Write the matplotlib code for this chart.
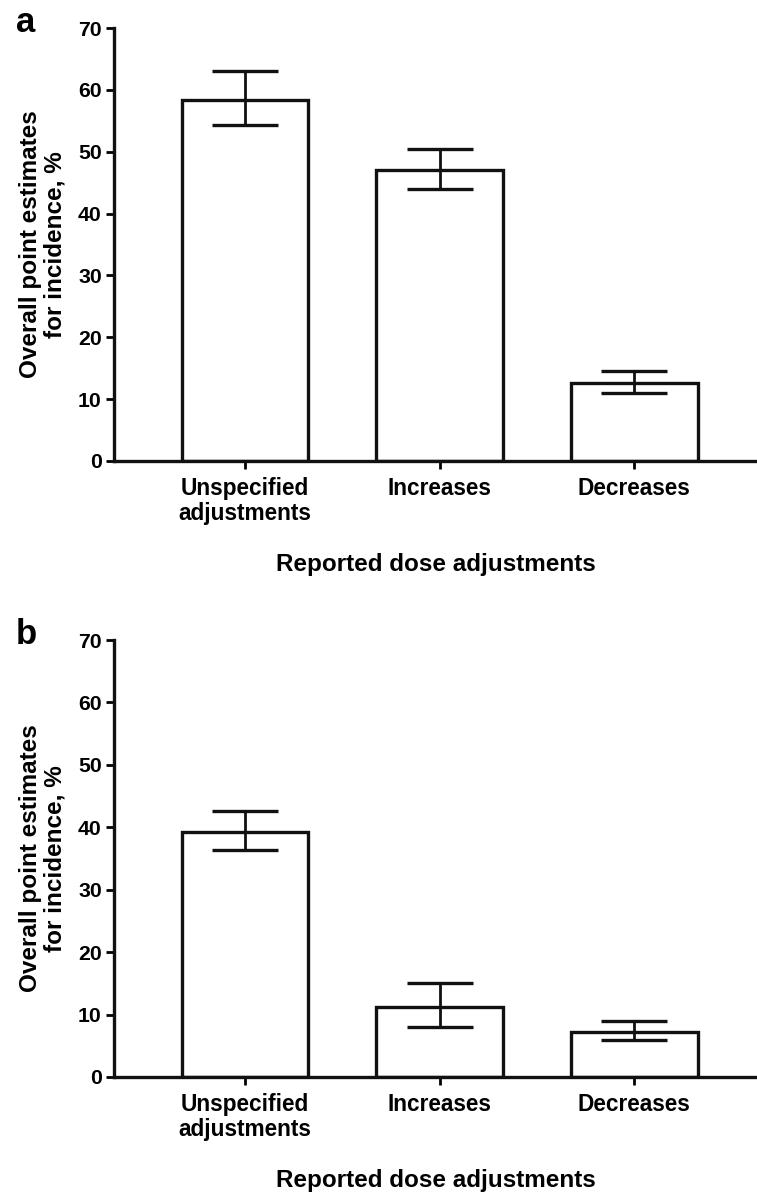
"""Incidence of reported dose adjustments, panels a and b."""

import numpy as np
import matplotlib
matplotlib.use("Agg")
import matplotlib.pyplot as plt

categories = ["Unspecified\nadjustments", "Increases", "Decreases"]

# panel a
a_values = [58.3, 47.0, 12.6]
a_upper = [63.0, 50.5, 14.6]
a_lower = [54.3, 44.0, 11.0]

# panel b
b_values = [39.2, 11.2, 7.2]
b_upper = [42.6, 15.0, 9.0]
b_lower = [36.4, 8.0, 5.9]

yticks = [0, 10, 20, 30, 40, 50, 60, 70]

plt.rcParams["font.family"] = ["Liberation Sans", "DejaVu Sans"]
plt.rcParams["font.weight"] = "bold"

W, H = 757, 1192
fig = plt.figure(figsize=(W / 100, H / 100), dpi=100)


def panel(rect, values, upper, lower, letter):
    ax = fig.add_axes(rect)
    x = np.arange(len(values))
    ax.bar(x, values, width=0.65, facecolor="white", edgecolor="#111111",
           linewidth=2.4, zorder=2)
    vals = np.array(values)
    yerr = [vals - np.array(lower), np.array(upper) - vals]
    ax.errorbar(x, vals, yerr=yerr, fmt="none", ecolor="#111111",
                elinewidth=2.0, capsize=23.5, capthick=2.4, zorder=3)

    ax.set_xlim(-0.672, 2.63)
    ax.set_ylim(0, 70)
    ax.set_yticks(yticks)
    ax.set_xticks(x)
    ax.set_xticklabels(categories, fontsize=16.3, fontweight="bold",
                       linespacing=1.1)
    ax.tick_params(axis="y", labelsize=15.3, width=2, length=5.8, pad=3,
                   direction="out")
    ax.tick_params(axis="x", width=2, length=5.8, pad=6, direction="out")
    for lab in ax.get_yticklabels():
        lab.set_fontweight("bold")

    for side in ("top", "right"):
        ax.spines[side].set_visible(False)
    for side in ("left", "bottom"):
        ax.spines[side].set_linewidth(2.4)
        ax.spines[side].set_color("#111111")

    ax.set_ylabel("Overall point estimates\nfor incidence, %", fontsize=17.5,
                  fontweight="bold", linespacing=1.1, labelpad=8)
    ax.set_xlabel("Reported dose adjustments", fontsize=17.5,
                  fontweight="bold", labelpad=20)
    ax.text(-0.153, 1.012, letter, transform=ax.transAxes, fontsize=25,
            fontweight="bold", ha="left", va="center")
    return ax


panel([114 / W, 1 - 461 / H, 1 - 114 / W, 433 / H],
      a_values, a_upper, a_lower, "a")
panel([114 / W, 1 - 1077 / H, 1 - 114 / W, 437 / H],
      b_values, b_upper, b_lower, "b")

fig.savefig("out.png", dpi=100)
